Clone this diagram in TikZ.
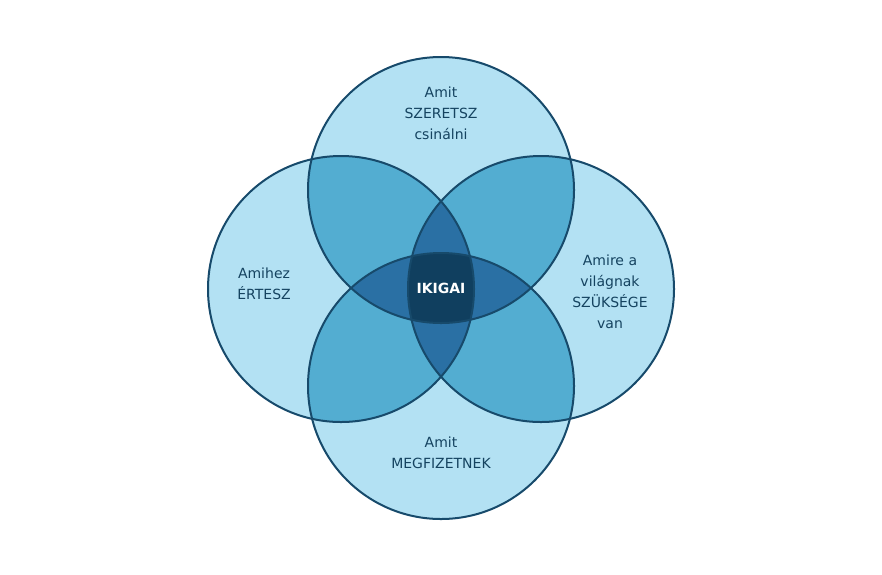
\documentclass[tikz,border=0pt]{standalone}
\usepackage{fontspec}
\setmainfont{DejaVu Sans}
\definecolor{lite}{HTML}{B3E1F3}
\definecolor{pair}{HTML}{53ADD1}
\definecolor{trio}{HTML}{2A70A4}
\definecolor{quad}{HTML}{103F5F}
\definecolor{rim}{HTML}{174A6B}
\begin{document}
\begin{tikzpicture}[x=1pt,y=-1pt,
  lbl/.style={align=center,font=\fontsize{14}{21}\selectfont,text=rim!90!black}]
\useasboundingbox (0,0) rectangle (882,574);
\def\R{133}
\coordinate (T) at (441,190);
\coordinate (B) at (441,386);
\coordinate (L) at (341,289);
\coordinate (Rt) at (541,289);
% single circles
\foreach \c in {T,B,L,Rt} \fill[lite] (\c) circle (\R);
% pairs
\foreach \a/\b in {T/L,T/Rt,B/L,B/Rt,L/Rt,T/B}
  {\begin{scope}\clip (\a) circle (\R); \fill[pair] (\b) circle (\R);\end{scope}}
% triples
\foreach \a/\b/\c in {T/L/Rt,B/L/Rt,L/T/B,Rt/T/B}
  {\begin{scope}\clip (\a) circle (\R); \clip (\b) circle (\R); \fill[trio] (\c) circle (\R);\end{scope}}
% centre
\begin{scope}\clip (T) circle (\R); \clip (B) circle (\R); \clip (L) circle (\R); \fill[quad] (Rt) circle (\R);\end{scope}
\foreach \c in {T,B,L,Rt} \draw[rim,line width=2pt] (\c) circle (\R);
% labels
\node[lbl] (love) at (441,113) {Amit\\SZERETSZ\\csinálni};
\node[lbl] (good) at (264,284) {Amihez\\ÉRTESZ};
\node[lbl] (need) at (610,292) {Amire a\\világnak\\SZÜKSÉGE\\van};
\node[lbl] (paid) at (441,453) {Amit\\MEGFIZETNEK};
\node[lbl,text=white,font=\fontsize{14}{21}\selectfont\bfseries] (ikigai) at (441,288) {IKIGAI};
\end{tikzpicture}
\end{document}
